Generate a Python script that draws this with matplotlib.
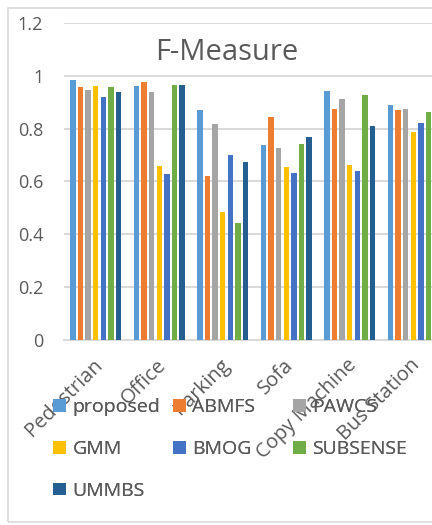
import numpy as np
import matplotlib.pyplot as plt
from matplotlib.patches import Rectangle

# Categories and series
categories = ["Pedestrian", "Office", "Parking", "Sofa", "Copy Machine", "Bus Station"]
methods = ["proposed", "ABMFS", "PAWCS", "GMM", "BMOG", "SUBSENSE", "UMMBS"]

proposed = [0.985, 0.962, 0.869, 0.737, 0.942, 0.891]
abmfs    = [0.957, 0.975, 0.619, 0.846, 0.874, 0.869]
pawcs    = [0.947, 0.939, 0.818, 0.727, 0.914, 0.874]
gmm      = [0.962, 0.659, 0.485, 0.654, 0.663, 0.788]
bmog     = [0.919, 0.629, 0.700, 0.631, 0.640, 0.823]
subsense = [0.957, 0.966, 0.444, 0.742, 0.928, 0.864]
ummbs    = [0.939, 0.966, 0.673, 0.769, 0.811, 0.676]

series = [proposed, abmfs, pawcs, gmm, bmog, subsense, ummbs]
colors = ["#5B9BD5", "#ED7D31", "#A5A5A5", "#FFC000", "#4472C4", "#70AD47", "#255E91"]

W, H = 432, 525
fig = plt.figure(figsize=(W / 100, H / 100), dpi=100)
plt.rcParams['font.family'] = ['Open Sans', 'DejaVu Sans']
txt = "#595959"
grid = "#d9d9d9"

# chart border (cropped on the right like the reference)
fig.patches.append(Rectangle((8 / W, 3 / H), 460 / W, 514 / H, transform=fig.transFigure,
                             fill=False, edgecolor=grid, lw=1.2))

# plot area runs past the right edge of the picture
ax = fig.add_axes([64 / W, (H - 340) / H, 381 / W, 317 / H])

x = np.arange(len(categories))
slot = 0.12
bw = 0.084
bars = []
for i, (vals, c, name) in enumerate(zip(series, colors, methods)):
    bars.append(ax.bar(x + (i - 3) * slot, vals, width=bw, color=c, label=name, zorder=3))

ax.set_xlim(-0.5, len(categories) - 0.5)
ax.set_ylim(0, 1.2)
ax.set_yticks(np.arange(0, 1.21, 0.2))
ax.set_yticklabels([f"{v:g}" for v in np.arange(0, 1.21, 0.2)])
ax.yaxis.grid(True, color=grid, lw=1.4, zorder=0)
for s in ["top", "right", "left"]:
    ax.spines[s].set_visible(False)
ax.spines["bottom"].set_color(grid)
ax.spines["bottom"].set_linewidth(1.4)
ax.tick_params(axis="y", length=0, pad=15, labelsize=13, labelcolor=txt)
ax.tick_params(axis="x", length=0, pad=16, labelsize=14.5, labelcolor=txt)
ax.set_xticks(x + 0.06)
ax.set_xticklabels(categories, rotation=45, ha="right", va="center", rotation_mode="anchor")

fig.text(227 / W, (H - 52) / H, "F-Measure", ha="center", va="center", fontsize=21, color=txt)

# legend laid out row by row like Excel: one legend per column
columns = [[0, 3, 6], [1, 4], [2, 5]]
col_x = [53, 173, 293]
for idx, cx in zip(columns, col_x):
    leg = fig.legend([bars[k] for k in idx], [methods[k] for k in idx],
                     loc="upper left", bbox_to_anchor=(cx / W, (H - 398) / H),
                     frameon=False, fontsize=14, labelcolor=txt, handlelength=0.65,
                     handleheight=0.65, handletextpad=0.35,
                     labelspacing=1.23, borderpad=0, borderaxespad=0)
    fig.add_artist(leg)

fig.savefig("out.png", dpi=100)
